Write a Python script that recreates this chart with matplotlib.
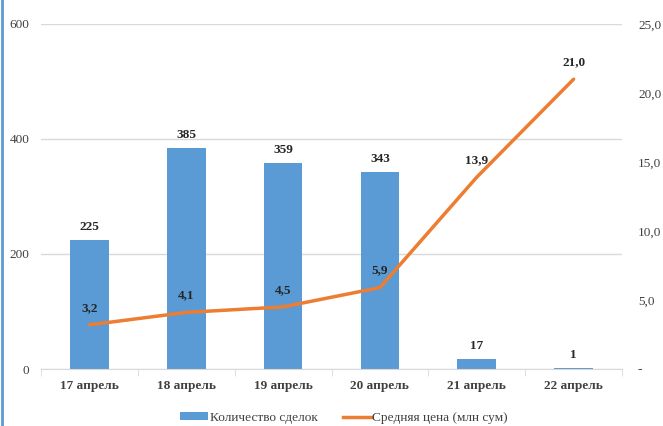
import matplotlib
matplotlib.use('Agg')
import matplotlib.pyplot as plt
from matplotlib.lines import Line2D
from matplotlib.patches import Patch

days = ['17 апрель', '18 апрель', '19 апрель', '20 апрель', '21 апрель', '22 апрель']
deals = [225, 385, 359, 343, 17, 1]
price = [3.2, 4.1, 4.5, 5.9, 13.9, 21.0]
left_ticks = [0, 200, 400, 600]
right_ticks = [0, 5, 10, 15, 20, 25]
right_labels = ['-', '5,0', '10,0', '15,0', '20,0', '25,0']

BLUE = '#5B9BD5'
ORANGE = '#ED7D31'
GRID = '#D9D9D9'
TXT = '#404040'

plt.rcParams['font.family'] = ['Liberation Serif', 'DejaVu Serif']
plt.rcParams['font.size'] = 9

fig = plt.figure(figsize=(6.63, 4.26), dpi=100)
ax = fig.add_axes([41 / 663, 1 - 369 / 426, 581 / 663, 345 / 426])
x = list(range(len(days)))

ax.bar(x, deals, width=0.4, color=BLUE, zorder=2)
for xi, v in zip(x, deals):
    ax.annotate(str(v), (xi, v), xytext=(0, 5), textcoords='offset points',
                ha='center', va='bottom', fontweight='bold', fontsize=9.5, color='#262626')

ax.set_xlim(-0.5, len(days) - 0.5)
ax.set_ylim(0, 600)
ax.set_yticks(left_ticks)
ax.yaxis.grid(True, color=GRID, lw=1, zorder=0)
ax.set_axisbelow(True)
ax.tick_params(axis='y', length=0, pad=8.5, colors=TXT, labelsize=9.5)
ax.set_xticks(x)
ax.set_xticklabels(days, fontweight='bold', fontsize=9.5, color=TXT)
ax.set_xticks([i - 0.5 for i in range(len(days) + 1)], minor=True)
ax.tick_params(axis='x', which='major', length=0, pad=8)
ax.tick_params(axis='x', which='minor', length=5, color=GRID, direction='out')
for s in ['top', 'right', 'left']:
    ax.spines[s].set_visible(False)
ax.spines['bottom'].set_color(GRID)

ax2 = ax.twinx()
ax2.plot(x, price, color=ORANGE, lw=2.5, solid_capstyle='round', zorder=3)
for xi, v in zip(x, price):
    ax2.annotate(f'{v:.1f}'.replace('.', ','), (xi, v), xytext=(0, 8),
                 textcoords='offset points', ha='center', va='bottom',
                 fontweight='bold', fontsize=9.5, color='#262626')
ax2.set_ylim(0, 25)
ax2.set_yticks(right_ticks)
ax2.set_yticklabels(right_labels)
ax2.tick_params(axis='y', length=0, pad=11.5, colors=TXT, labelsize=9.5)
for s in ax2.spines.values():
    s.set_visible(False)

handles = [Patch(facecolor=BLUE, edgecolor='none'),
           Line2D([0], [0], color=ORANGE, lw=2.5)]
fig.legend(handles, ['Количество сделок', 'Средняя цена (млн сум)'],
           loc='center', bbox_to_anchor=(344 / 663, 8 / 426), ncol=2, frameon=False,
           fontsize=9.6, labelcolor=TXT, handlelength=2.1, handleheight=0.5,
           columnspacing=1.9, handletextpad=0.1, borderpad=0)

fig.add_artist(Line2D([2 / 663, 2 / 663], [0, 1], color=BLUE, lw=2,
                      transform=fig.transFigure))

fig.savefig('out.png', dpi=100)
